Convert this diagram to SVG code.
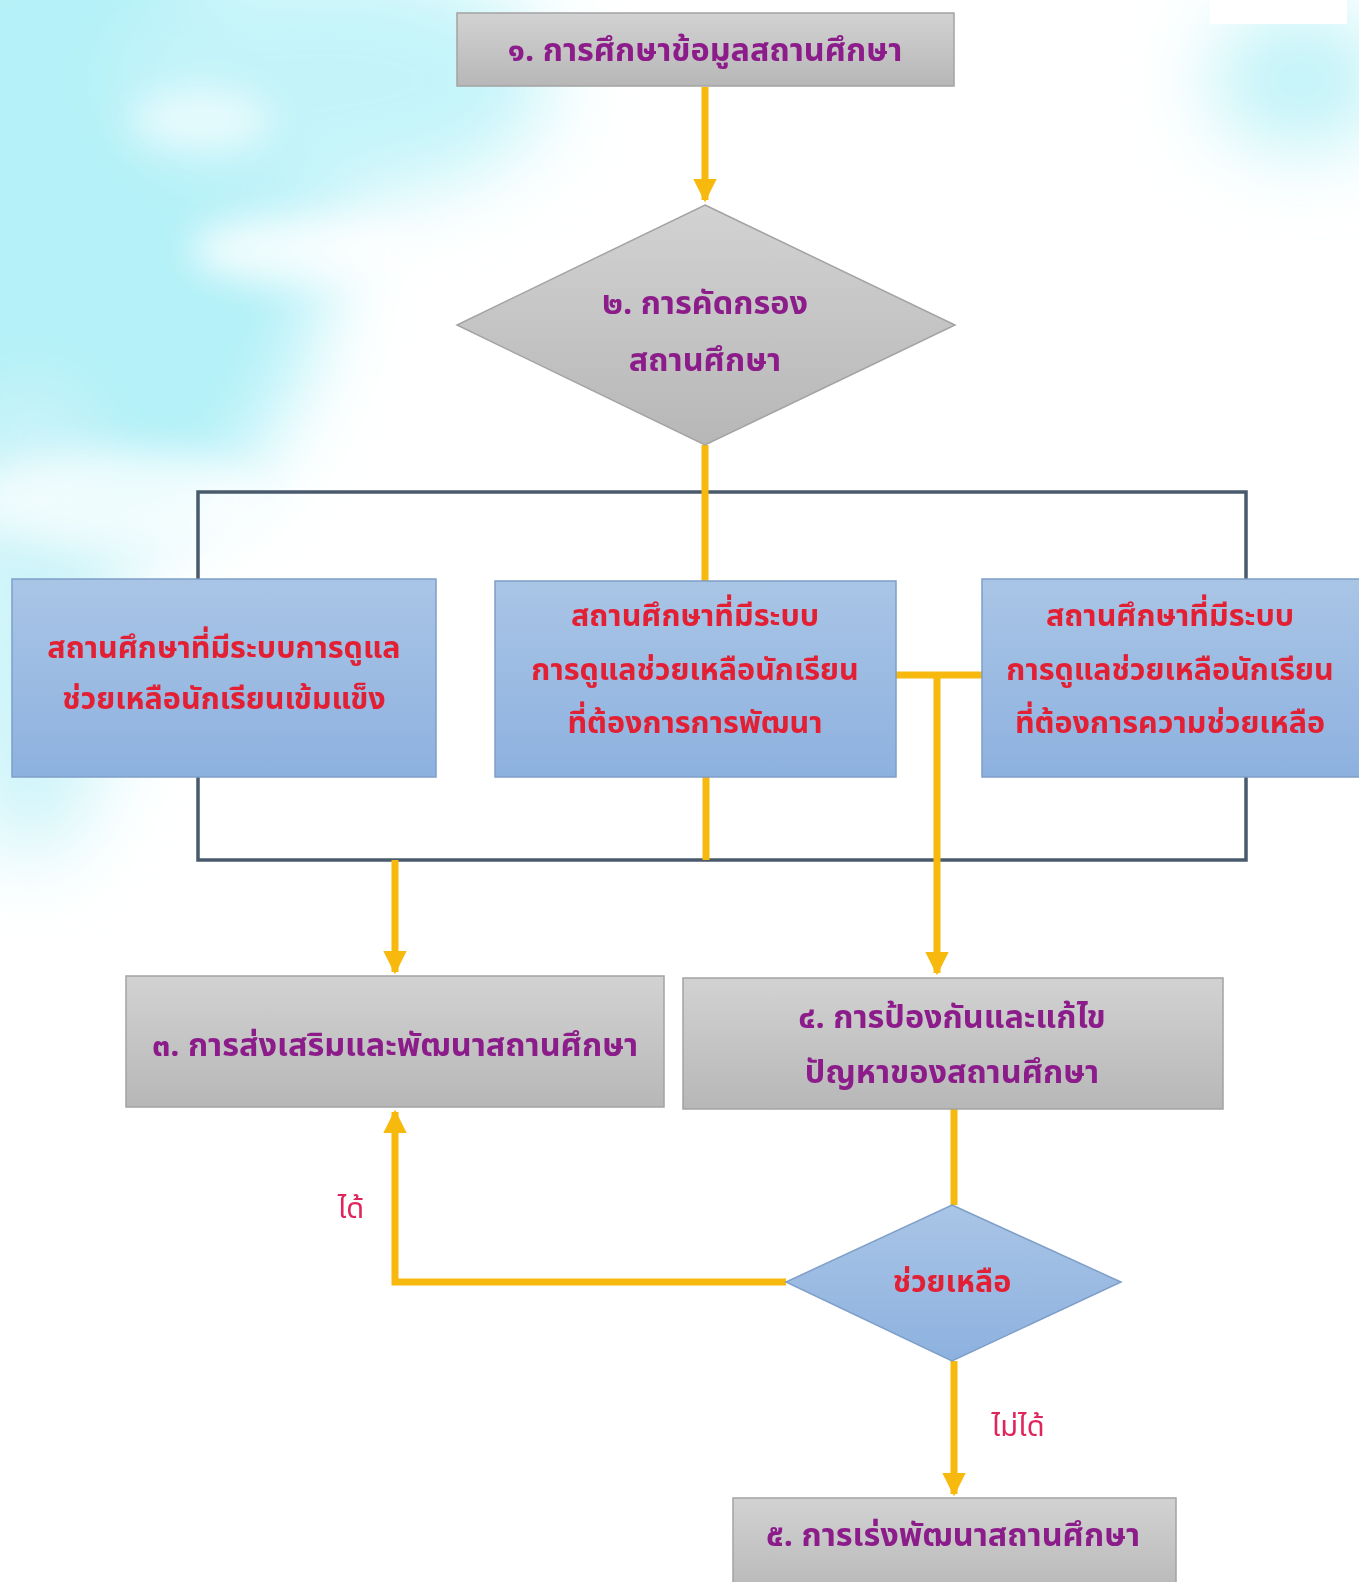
<svg xmlns="http://www.w3.org/2000/svg" width="1359" height="1582" viewBox="0 0 1359 1582">
<defs>
<style>
.t{font-family:"Noto Sans Thai","Noto Sans","DejaVu Sans",sans-serif;font-weight:bold;text-anchor:middle;}
.p{fill:#8b1c8a;font-size:32.4px;}
.r{fill:#e21f33;font-size:30.5px;}
.lab{fill:#e0245c;font-size:29px;font-weight:normal;}
.gray{fill:url(#gg);stroke:#a3a3a3;stroke-width:1.5;}
.blue{fill:url(#bg);stroke:#7f9fc9;stroke-width:1.5;}
.y{stroke:#f7b90d;stroke-width:7;fill:none;}
.br{stroke:#485a6c;stroke-width:3.5;fill:none;}
</style>
<linearGradient id="gg" x1="0" y1="0" x2="0" y2="1"><stop offset="0" stop-color="#d2d2d2"/><stop offset="1" stop-color="#b7b7b7"/></linearGradient>
<linearGradient id="bg" x1="0" y1="0" x2="0" y2="1"><stop offset="0" stop-color="#a9c5e6"/><stop offset="1" stop-color="#8db1df"/></linearGradient>
<marker id="ah" viewBox="0 0 10 10" refX="9" refY="5" markerWidth="3.4" markerHeight="3.4" orient="auto" markerUnits="strokeWidth"><path d="M0,0 L10,5 L0,10 z" fill="#f7b90d"/></marker>
<filter id="blur" x="-50%" y="-50%" width="200%" height="200%"><feGaussianBlur stdDeviation="40"/></filter>
<filter id="blur2" x="-50%" y="-50%" width="200%" height="200%"><feGaussianBlur stdDeviation="18"/></filter>
</defs>
<g id="background">
<rect width="1359" height="1582" fill="#ffffff"/>
<g filter="url(#blur)">
<ellipse cx="90" cy="220" rx="240" ry="320" fill="#b4f1f8"/>
<ellipse cx="330" cy="80" rx="220" ry="120" fill="#c4f4f9"/>
<ellipse cx="30" cy="620" rx="90" ry="240" fill="#cdf4f9"/>
<ellipse cx="1300" cy="80" rx="90" ry="70" fill="#c0f3f8"/>
</g>
<g filter="url(#blur2)">
<ellipse cx="300" cy="250" rx="110" ry="35" fill="#ffffff" opacity="0.8"/>
<ellipse cx="120" cy="500" rx="150" ry="50" fill="#ffffff" opacity="0.7"/>
<ellipse cx="200" cy="120" rx="70" ry="30" fill="#ffffff" opacity="0.6"/>
</g>
<rect x="1210" y="0" width="137" height="24" fill="#ffffff"/>
</g>
<g id="bracket">
<rect class="br" x="198" y="492" width="1048" height="368"/>
</g>
<g id="connectors">
<line class="y" x1="705" y1="87" x2="705" y2="200" marker-end="url(#ah)"/>
<line class="y" x1="705" y1="445" x2="705" y2="581"/>
<line class="y" x1="706" y1="777" x2="706" y2="860"/>
<polyline class="y" points="896,675 982,675"/>
<line class="y" x1="937" y1="675" x2="937" y2="973" marker-end="url(#ah)"/>
<line class="y" x1="395" y1="860" x2="395" y2="972" marker-end="url(#ah)"/>
<line class="y" x1="954" y1="1109" x2="954" y2="1205"/>
<polyline class="y" points="786,1282 395,1282 395,1112" marker-end="url(#ah)"/>
<line class="y" x1="954" y1="1361" x2="954" y2="1494" marker-end="url(#ah)"/>
<text class="t lab" x="351" y="1218">ได้</text>
<text class="t lab" x="1018" y="1436">ไม่ได้</text>
</g>
<g id="n1">
<rect class="gray" x="457" y="13" width="497" height="73"/>
<text class="t p" x="705" y="61">๑. การศึกษาข้อมูลสถานศึกษา</text>
</g>
<g id="n2">
<polygon class="gray" points="705,205 955,325 705,445 457,325"/>
<text class="t p" x="705" y="314">๒. การคัดกรอง</text>
<text class="t p" x="705" y="371">สถานศึกษา</text>
</g>
<g id="nA">
<rect class="blue" x="12" y="579" width="424" height="198"/>
<text class="t r" x="224" y="658">สถานศึกษาที่มีระบบการดูแล</text>
<text class="t r" x="224" y="709">ช่วยเหลือนักเรียนเข้มแข็ง</text>
</g>
<g id="nB">
<rect class="blue" x="495" y="581" width="401" height="196"/>
<text class="t r" x="695" y="626">สถานศึกษาที่มีระบบ</text>
<text class="t r" x="695" y="680">การดูแลช่วยเหลือนักเรียน</text>
<text class="t r" x="695" y="733">ที่ต้องการการพัฒนา</text>
</g>
<g id="nC">
<rect class="blue" x="982" y="579" width="380" height="198"/>
<text class="t r" x="1170" y="626">สถานศึกษาที่มีระบบ</text>
<text class="t r" x="1170" y="680">การดูแลช่วยเหลือนักเรียน</text>
<text class="t r" x="1170" y="733">ที่ต้องการความช่วยเหลือ</text>
</g>
<g id="n3">
<rect class="gray" x="126" y="976" width="538" height="131"/>
<text class="t p" x="395" y="1056">๓. การส่งเสริมและพัฒนาสถานศึกษา</text>
</g>
<g id="n4">
<rect class="gray" x="683" y="978" width="540" height="131"/>
<text class="t p" x="952" y="1028">๔. การป้องกันและแก้ไข</text>
<text class="t p" x="952" y="1083">ปัญหาของสถานศึกษา</text>
</g>
<g id="n5">
<polygon class="blue" points="952,1205 1121,1282 952,1361 786,1282"/>
<text class="t r" x="952" y="1292">ช่วยเหลือ</text>
</g>
<g id="n6">
<rect class="gray" x="733" y="1498" width="443" height="100"/>
<text class="t p" x="953" y="1546">๕. การเร่งพัฒนาสถานศึกษา</text>
</g>
</svg>
